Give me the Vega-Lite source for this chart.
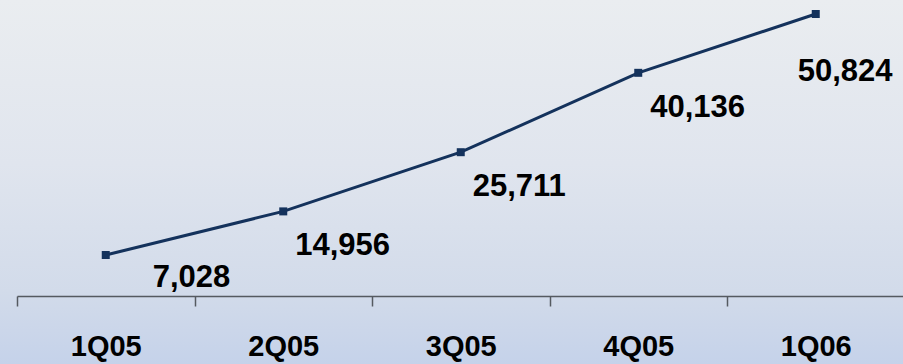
{
  "$schema": "https://vega.github.io/schema/vega-lite/v6.json",
  "width": 903,
  "height": 364,
  "padding": 0,
  "autosize": {"type": "none"},
  "background": "#c6d2e9",
  "view": {
    "stroke": null,
    "fill": {
      "gradient": "linear",
      "x1": 0, "y1": 0, "x2": 0, "y2": 1,
      "stops": [
        {"offset": 0, "color": "#eaedf0"},
        {"offset": 0.45, "color": "#e0e5ee"},
        {"offset": 0.8, "color": "#d2dbea"},
        {"offset": 1, "color": "#c5d2ea"}
      ]
    }
  },
  "data": {
    "values": [
      {"quarter": "1Q05", "value": 7028},
      {"quarter": "2Q05", "value": 14956},
      {"quarter": "3Q05", "value": 25711},
      {"quarter": "4Q05", "value": 40136},
      {"quarter": "1Q06", "value": 50824}
    ]
  },
  "encoding": {
    "x": {
      "field": "quarter",
      "type": "ordinal",
      "sort": null,
      "bandPosition": 0.5,
      "scale": {"type": "band", "range": [17, 904.5], "paddingInner": 0, "paddingOuter": 0},
      "axis": {
        "title": null,
        "orient": "bottom",
        "offset": -68,
        "grid": false,
        "labelAngle": 0,
        "tickBand": "extent",
        "tickSize": 10,
        "tickWidth": 1.5,
        "tickColor": "#555a60",
        "domainColor": "#555a60",
        "domainWidth": 1.5,
        "labelFont": "Liberation Sans",
        "labelFontSize": 29,
        "labelFontWeight": "bold",
        "labelColor": "#000000",
        "labelPadding": 26
      }
    },
    "y": {
      "field": "value",
      "type": "quantitative",
      "scale": {"domain": [-12775, 53368], "nice": false, "zero": false},
      "axis": null
    }
  },
  "layer": [
    {
      "mark": {
        "type": "line",
        "color": "#14325c",
        "strokeWidth": 3,
        "point": {"shape": "square", "size": 64, "filled": true, "color": "#14325c", "opacity": 1}
      }
    },
    {
      "transform": [{"filter": "datum.quarter == '2Q05' || datum.quarter == '3Q05' || datum.quarter == '4Q05'"}],
      "mark": {"type": "text", "align": "left", "baseline": "alphabetic", "dx": 12, "dy": 44,
               "font": "Liberation Sans", "fontSize": 31, "fontWeight": "bold", "color": "#000000"},
      "encoding": {"text": {"field": "value", "type": "quantitative", "format": ","}}
    },
    {
      "transform": [{"filter": "datum.quarter == '1Q05'"}],
      "mark": {"type": "text", "align": "left", "baseline": "alphabetic", "dx": 47, "dy": 32,
               "font": "Liberation Sans", "fontSize": 31, "fontWeight": "bold", "color": "#000000"},
      "encoding": {"text": {"field": "value", "type": "quantitative", "format": ","}}
    },
    {
      "transform": [{"filter": "datum.quarter == '1Q06'"}],
      "mark": {"type": "text", "align": "left", "baseline": "alphabetic", "dx": -18, "dy": 67,
               "font": "Liberation Sans", "fontSize": 31, "fontWeight": "bold", "color": "#000000"},
      "encoding": {"text": {"field": "value", "type": "quantitative", "format": ","}}
    }
  ]
}
